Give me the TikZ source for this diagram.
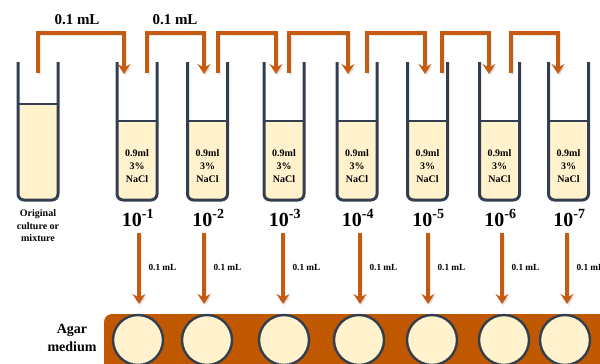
\documentclass[tikz,border=0pt]{standalone}
\usepackage{fontspec}
\setmainfont{Liberation Serif}
\usetikzlibrary{arrows.meta,calc}
\definecolor{arrowc}{HTML}{C55A11}
\definecolor{tubec}{HTML}{333F50}
\definecolor{liquid}{HTML}{FFF2CC}
\definecolor{platec}{HTML}{C05800}
\tikzset{
  tubewall/.style={draw=tubec, line width=3pt, rounded corners=6pt},
  flow/.style={draw=arrowc, line width=3.2pt, -{Stealth[length=10pt,width=13pt,inset=3.5pt]}},
  flowshadow/.style={draw=black!30, opacity=0.3, line width=3.2pt, -{Stealth[length=10pt,width=13pt,inset=3.5pt]}},
  tubetext/.style={font=\fontsize{10}{13}\selectfont\bfseries, align=center},
  dil/.style={font=\fontsize{20}{22}\selectfont\bfseries},
  vol/.style={font=\fontsize{15}{17}\selectfont\bfseries},
  smallvol/.style={font=\fontsize{9.3}{11}\selectfont\bfseries, anchor=west},
  well/.style={circle, draw=tubec, line width=2.4pt, fill=liquid, minimum size=50pt, inner sep=0pt}
}
\begin{document}
\begin{tikzpicture}[x=1pt,y=-1pt]
\useasboundingbox (0,0) rectangle (600,364);
% plate
\fill[platec, rounded corners=8pt] (104,314) rectangle (640,400);
\node[font=\fontsize{14}{18}\selectfont\bfseries, align=center] (agar) at (72,338) {Agar\\medium};
% tubes
\foreach \n/\cx/\lt in {0/38/104, 1/137/121, 2/207.5/121, 3/284/121, 4/357/121, 5/427.5/121, 6/499.5/121, 7/568.5/121}{
  \fill[liquid, rounded corners=6pt] (\cx-20,\lt) -- (\cx-20,200) -- (\cx+20,200) -- (\cx+20,\lt) -- cycle;
  \draw[draw=tubec, line width=2.6pt] (\cx-20,\lt) -- (\cx+20,\lt);
  \draw[tubewall] (\cx-20,62) -- (\cx-20,200) -- (\cx+20,200) -- (\cx+20,62);
  \coordinate (t\n) at (\cx,62);
}
\foreach \n/\cx in {1/137, 2/207.5, 3/284, 4/357, 5/427.5, 6/499.5, 7/568.5}{
  \node[tubetext] (s\n) at (\cx,166) {0.9ml\\3\%\\NaCl};
  \node[dil] (d\n) at (\cx+1,218) {10\textsuperscript{\fontsize{14}{14}\selectfont -\n}};
}
\node[font=\fontsize{10}{12.5}\selectfont\bfseries, align=center] (orig) at (38,226) {Original\\culture or\\mixture};
% transfer arrows
\foreach \i/\a/\b in {1/38/124, 2/147/204, 3/218/276, 4/289/348, 5/367/425, 6/442/489, 7/511/558}{
  \coordinate (ts\i) at (\a,73);
  \coordinate (te\i) at (\b,74);
  \coordinate (tc\i) at (\a,33);
  \draw[flowshadow] ($(ts\i)+(1.5,1.5)$) |- ($(tc\i)+(1.5,1.5)$) -| ($(te\i)+(1.5,1.5)$);
  \draw[flow] (ts\i) |- (tc\i) -| (te\i);
}
\node[vol] (v1) at (77,20) {0.1 mL};
\node[vol] (v2) at (175,20) {0.1 mL};
% wells and down arrows
\foreach \i/\ax/\wx in {1/139/138, 2/204/207, 3/283/284, 4/360/359, 5/428/432, 6/502/504, 7/567/565}{
  \node[well] (w\i) at (\wx,340) {};
  \coordinate (ds\i) at (\ax,233);
  \coordinate (de\i) at (\ax,304);
  \draw[flowshadow] ($(ds\i)+(1.5,1.5)$) -- ($(de\i)+(1.5,1.5)$);
  \draw[flow] (ds\i) -- (de\i);
  \node[smallvol] (m\i) at (\ax+6,267) {0.1 mL};
}
\end{tikzpicture}
\end{document}
